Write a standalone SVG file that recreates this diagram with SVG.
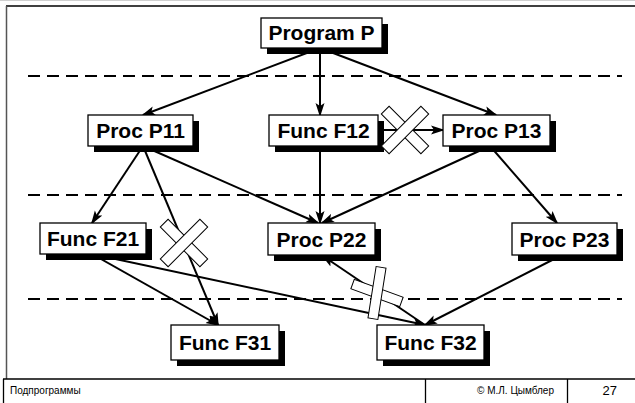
<svg xmlns="http://www.w3.org/2000/svg" width="635" height="403" viewBox="0 0 635 403">
<style>
.box{fill:#fff;stroke:#000;stroke-width:1.3}
.sh{fill:#000}
.lbl{font-family:"Liberation Sans",Arial,sans-serif;font-weight:bold;font-size:21px;fill:#000;text-anchor:middle}
.con{stroke:#000;stroke-width:2;fill:none;marker-end:url(#ah)}
.dash{stroke:#000;stroke-width:2;stroke-dasharray:12 7;fill:none}
.x{fill:#fff;stroke:#000;stroke-width:1}
.frame{stroke:#000;stroke-width:1.3;fill:none}
.ft{font-family:"Liberation Sans",Arial,sans-serif;font-size:10px;fill:#000}
</style>
<defs>
<marker id="ah" viewBox="0 -5 14 10" refX="12" refY="0" markerWidth="14" markerHeight="10" markerUnits="userSpaceOnUse" orient="auto">
<path d="M0,-4.5 L14,0 L0,4.5 L3,0 z" fill="#000"/>
</marker>
</defs>
<rect width="635" height="403" fill="#fff"/>
<line x1="0" y1="0.5" x2="635" y2="0.5" stroke="#d0d0d0" stroke-width="1"/>
<g id="frame">
<line class="frame" x1="6" y1="6" x2="635" y2="6"/>
<line x1="6.5" y1="6" x2="6.5" y2="379" stroke="#555" stroke-width="1.5"/>
<line class="frame" x1="3" y1="379" x2="635" y2="379" stroke="#333"/>
<line class="frame" x1="3.5" y1="379" x2="3.5" y2="403" stroke="#333"/>
<line class="frame" x1="425.5" y1="379" x2="425.5" y2="403" stroke="#333"/>
<line class="frame" x1="567.5" y1="379" x2="567.5" y2="403" stroke="#333"/>
<text class="ft" x="10" y="394">Подпрограммы</text>
<text class="ft" x="554" y="394" text-anchor="end">© М.Л. Цымблер</text>
<text class="ft" x="617" y="395" text-anchor="end" style="font-size:13px">27</text>
</g>
<g id="levels">
<line class="dash" x1="28" y1="76" x2="622" y2="76"/>
<line class="dash" x1="28" y1="195" x2="622" y2="195"/>
<line class="dash" x1="28" y1="299" x2="622" y2="299"/>
</g>
<g id="connectors">
<line class="con" x1="320" y1="48" x2="143" y2="115"/>
<line class="con" x1="320" y1="48" x2="320" y2="115"/>
<line class="con" x1="320" y1="48" x2="496" y2="115"/>
<line class="con" x1="378" y1="130" x2="443" y2="130"/>
<line class="con" x1="143" y1="146" x2="92" y2="223"/>
<line class="con" x1="143" y1="146" x2="218" y2="325"/>
<line class="con" x1="143" y1="146" x2="318" y2="223"/>
<line class="con" x1="320" y1="146" x2="320" y2="223"/>
<line class="con" x1="490" y1="146" x2="322" y2="223"/>
<line class="con" x1="490" y1="146" x2="557" y2="223"/>
<line class="con" x1="92" y1="254" x2="218" y2="325"/>
<line class="con" x1="92" y1="254" x2="425" y2="325"/>
<line class="con" x1="425" y1="325" x2="323" y2="256"/>
<line class="con" x1="562" y1="255" x2="425" y2="325"/>
</g>
<g id="programP"><rect class="sh" x="267" y="24" width="121" height="30"/><rect class="box" x="261" y="18" width="121" height="30"/><text class="lbl" x="321.5" y="40">Program P</text></g>
<g id="procP11"><rect class="sh" x="94" y="121" width="105" height="31"/><rect class="box" x="88" y="115" width="105" height="31"/><text class="lbl" x="140.5" y="138">Proc P11</text></g>
<g id="funcF12"><rect class="sh" x="275" y="121" width="109" height="31"/><rect class="box" x="269" y="115" width="109" height="31"/><text class="lbl" x="323.5" y="138">Func F12</text></g>
<g id="procP13"><rect class="sh" x="449" y="121" width="107" height="31"/><rect class="box" x="443" y="115" width="107" height="31"/><text class="lbl" x="496.5" y="138">Proc P13</text></g>
<g id="funcF21"><rect class="sh" x="46" y="229" width="106" height="31"/><rect class="box" x="40" y="223" width="106" height="31"/><text class="lbl" x="93" y="246">Func F21</text></g>
<g id="procP22"><rect class="sh" x="274" y="229" width="107" height="32"/><rect class="box" x="268" y="223" width="107" height="32"/><text class="lbl" x="321.5" y="246.5">Proc P22</text></g>
<g id="procP23"><rect class="sh" x="518" y="229" width="105" height="32"/><rect class="box" x="512" y="223" width="105" height="32"/><text class="lbl" x="564.5" y="246.5">Proc P23</text></g>
<g id="funcF31"><rect class="sh" x="177" y="331" width="108" height="35"/><rect class="box" x="171" y="325" width="108" height="35"/><text class="lbl" x="225" y="350">Func F31</text></g>
<g id="funcF32"><rect class="sh" x="383" y="331" width="107" height="35"/><rect class="box" x="377" y="325" width="107" height="35"/><text class="lbl" x="430.5" y="350">Func F32</text></g>
<g id="cross1" transform="translate(405,130)">
<rect class="x" x="-28" y="-5.5" width="56" height="11" transform="rotate(45)"/>
<rect class="x" x="-28" y="-5.5" width="56" height="11" transform="rotate(-45)"/>
</g>
<g id="cross2" transform="translate(184,243)">
<rect class="x" x="-28" y="-5.5" width="56" height="11" transform="rotate(45)"/>
<rect class="x" x="-28" y="-5.5" width="56" height="11" transform="rotate(-45)"/>
</g>
<g id="cross3" transform="translate(377,293)">
<rect class="x" x="-26" y="-5" width="52" height="10" transform="rotate(20)"/>
<rect class="x" x="-5" y="-26" width="10" height="52" transform="rotate(9)"/>
</g>
</svg>
